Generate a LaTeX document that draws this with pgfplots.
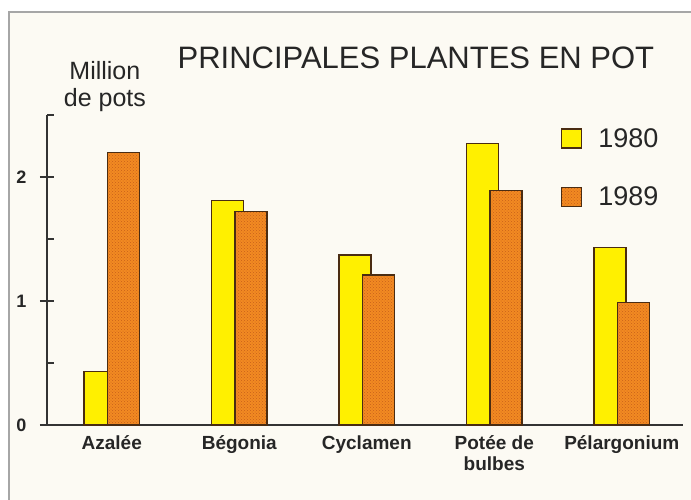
\documentclass[border=0pt]{standalone}
\usepackage{fontspec}
\setmainfont{Liberation Sans}
\usepackage{pgfplots}
\pgfplotsset{compat=1.18}
\usetikzlibrary{patterns}
\definecolor{cream}{HTML}{FCFAF3}
\definecolor{yel}{HTML}{FFF000}
\definecolor{ora}{HTML}{F28A22}
\definecolor{oradk}{HTML}{C8601A}
\definecolor{edge}{HTML}{4A2C12}
\definecolor{axc}{HTML}{333333}
\begin{document}
\begin{tikzpicture}[x=1pt,y=1pt]
\useasboundingbox (0,0) rectangle (691,499);
\fill[white] (0,0) rectangle (691,499);
\filldraw[fill=cream, draw=gray!70, line width=1.5pt] (9,-10) rectangle (705,487);
\begin{axis}[
  at={(47pt,74pt)}, anchor=south west,
  scale only axis, width=636pt, height=310pt,
  xmin=-0.508, xmax=4.48, ymin=0, ymax=2.5,
  axis x line=bottom, axis y line=left,
  axis line style={-, draw=axc, line width=1.4pt},
  /pgf/number format/assume math mode=true,
  ybar=0pt, bar width=32pt,
  xtick={0,1,2,3,4},
  xticklabels={Azalée, Bégonia, Cyclamen, {Potée de\\bulbes}, Pélargonium},
  xtick style={draw=none},
  xticklabel style={align=center, font=\fontsize{19}{21}\selectfont\bfseries, text=black!85, yshift=-7pt},
  ytick={0.5,1.5,2.5}, yticklabels={},
  tick align=inside,
  major tick length=7pt,
  y tick style={draw=axc, line width=1.4pt},
  extra y ticks={0,1,2},
  extra y tick style={tick align=center, major tick length=14pt,
     yticklabel style={font=\fontsize{18}{20}\selectfont\bfseries, text=black!85, xshift=-10pt}},
  title={PRINCIPALES PLANTES EN POT},
  title style={at={(rel axis cs:0.58,1.164)}, anchor=center, font=\fontsize{31}{34}\selectfont, text=black!85},
  ylabel={Million\\de pots},
  ylabel style={at={(rel axis cs:0.091,1.092)}, anchor=center, rotate=-90, align=center, font=\fontsize{25}{27}\selectfont, text=black!85},
  legend style={at={(rel axis cs:0.808,0.958)}, anchor=north west, draw=none, fill=none, inner sep=0pt,
     row sep=38pt, font=\fontsize{27}{29}\selectfont, text=black!85, cells={anchor=west},
     nodes={inner sep=0pt}},
  legend image code/.code={\draw[#1, line width=1.2pt] (0pt,-9.5pt) rectangle (20pt,9.5pt); \path (36pt,0pt);},
]
\addplot[fill=yel, draw=edge, line width=1.3pt, bar shift=-11.75pt] coordinates {(0,0.43) (1,1.81) (2,1.37) (3,2.27) (4,1.43)};
\addplot[fill=ora, draw=edge, line width=1.3pt, bar shift=11.75pt,
   postaction={pattern=crosshatch dots, pattern color=oradk}] coordinates {(0,2.20) (1,1.72) (2,1.21) (3,1.89) (4,0.99)};
\legend{1980,1989}
\end{axis}
\end{tikzpicture}
\end{document}
